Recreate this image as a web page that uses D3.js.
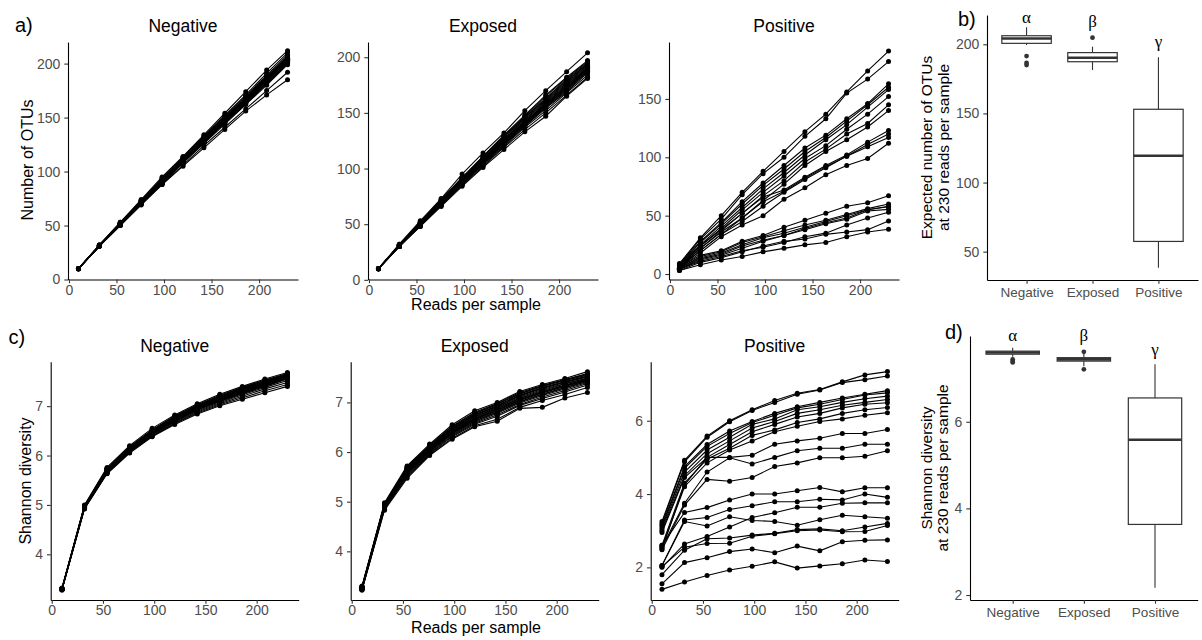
<!DOCTYPE html>
<html><head><meta charset="utf-8">
<script src="https://cdn.jsdelivr.net/npm/d3@7"></script>
<style>body{margin:0;background:#fff} svg{display:block}</style>
</head><body><svg id="chart" width="1202" height="640"></svg>
<script>
// ---------------- DATA ----------------
const reads = [10, 32, 54, 76, 98, 120, 142, 164, 186, 208, 230];
const groups = ["Negative", "Exposed", "Positive"];
const xTicks = [0, 50, 100, 150, 200];

const otuNegative = [
  [10, 32, 53, 74, 95, 114, 134, 154, 174, 194, 212],
  [10, 32, 53, 73, 94, 113, 133, 152, 171, 191, 210],
  [10, 31, 52, 73, 93, 113, 132, 151, 170, 189, 208],
  [10, 31, 52, 73, 93, 112, 131, 150, 169, 188, 207],
  [10, 31, 52, 72, 92, 112, 131, 150, 168, 187, 206],
  [10, 32, 52, 72, 92, 111, 130, 149, 168, 187, 206],
  [10, 31, 51, 72, 92, 111, 130, 149, 167, 186, 205],
  [10, 31, 52, 72, 91, 111, 130, 148, 167, 186, 205],
  [10, 31, 51, 72, 91, 110, 129, 148, 166, 185, 204],
  [10, 31, 52, 72, 91, 110, 129, 148, 166, 185, 204],
  [10, 31, 51, 71, 91, 110, 129, 147, 166, 185, 204],
  [10, 31, 51, 71, 90, 110, 128, 147, 165, 184, 203],
  [10, 31, 51, 71, 91, 109, 128, 147, 165, 184, 203],
  [10, 31, 51, 71, 90, 109, 128, 146, 164, 183, 202],
  [10, 31, 51, 71, 90, 109, 127, 146, 164, 182, 201],
  [10, 31, 51, 71, 90, 108, 127, 145, 163, 182, 201],
  [10, 31, 51, 70, 89, 108, 127, 145, 163, 181, 200],
  [10, 31, 51, 70, 89, 108, 126, 144, 162, 180, 199],
  [10, 31, 50, 70, 88, 106, 124, 141, 158, 175, 192],
  [10, 31, 50, 69, 88, 105, 122, 139, 156, 171, 185]
];
const otuExposed = [
  [10, 32, 53, 73, 95, 114, 132, 152, 170, 187, 204],
  [10, 32, 52, 72, 92, 111, 130, 148, 166, 182, 197],
  [10, 31, 52, 72, 91, 110, 129, 147, 165, 181, 196],
  [10, 31, 51, 71, 91, 109, 128, 146, 163, 180, 195],
  [10, 31, 51, 71, 90, 109, 127, 145, 162, 178, 194],
  [10, 31, 51, 70, 90, 108, 126, 144, 161, 177, 193],
  [10, 31, 51, 70, 89, 108, 126, 143, 160, 176, 192],
  [10, 31, 50, 70, 89, 107, 125, 142, 159, 175, 191],
  [10, 31, 50, 70, 89, 107, 125, 142, 158, 174, 190.5],
  [10, 31, 50, 69, 88, 106, 124, 141, 158, 174, 190],
  [10, 31, 50, 69, 88, 106, 124, 141, 157, 173, 189.5],
  [10, 31, 50, 69, 88, 106, 123, 140, 157, 172, 189],
  [10, 30, 50, 69, 87, 105, 123, 140, 156, 172, 188],
  [10, 30, 49, 68, 87, 105, 122, 139, 155, 171, 187.5],
  [10, 30, 49, 68, 87, 104, 122, 139, 155, 170, 187],
  [10, 30, 49, 68, 86, 104, 121, 138, 154, 169, 186],
  [10, 30, 49, 67, 86, 103, 120, 137, 152, 168, 184],
  [10, 30, 48, 67, 85, 102, 119, 135, 150, 166, 182],
  [10, 30, 48, 66, 84, 101, 117, 133, 147, 165, 181],
  [10, 31, 51, 71, 91, 111, 129, 146, 163, 179, 194]
];
const otuPositive = [
  [9, 31, 50, 70, 88, 105, 122, 137, 156, 174, 191],
  [8, 30, 47, 68, 86, 100, 118, 133, 155, 167, 182],
  [8, 28, 44, 62, 78, 93, 108, 119, 133, 146, 163],
  [7, 27, 43, 60, 76, 90, 105, 117, 131, 145, 160],
  [7, 25, 41, 57, 73, 87, 102, 115, 128, 143, 158],
  [7, 24, 39, 55, 70, 84, 99, 110, 124, 137, 152],
  [6, 22, 37, 52, 67, 80, 96, 107, 120, 129, 145],
  [6, 20, 34, 48, 63, 77, 93, 105, 115, 126, 140],
  [6, 24, 38, 52, 66, 72, 83, 93, 102, 113, 123],
  [6, 22, 36, 48, 62, 71, 82, 92, 101, 111, 120],
  [5, 20, 34, 45, 58, 70, 81, 91, 101, 109, 117],
  [5, 18, 32, 42, 50, 64, 74, 85, 93, 99, 112],
  [6, 16, 20, 28, 33, 40, 46, 52, 58, 61, 67],
  [5, 15, 19, 27, 32, 37, 42, 46, 51, 56, 60],
  [5, 14, 18, 25, 31, 35, 40, 45, 50, 55, 58],
  [4, 13, 17, 24, 29, 33, 39, 44, 48, 55, 57.7],
  [4, 12, 16, 22, 28, 33, 38, 43, 47, 54, 55.4],
  [4, 11, 15, 20, 23, 27, 32, 35, 42, 48, 53],
  [3, 10, 14, 19, 24, 28, 30, 34, 36, 38, 45.4],
  [3, 8, 12, 15, 19, 22, 25, 27, 32, 36, 38.3]
];

const shannonNegative = [
  [3.32, 5.00, 5.76, 6.20, 6.55, 6.82, 7.05, 7.24, 7.40, 7.55, 7.68],
  [3.31, 4.99, 5.74, 6.18, 6.52, 6.80, 7.03, 7.22, 7.38, 7.53, 7.66],
  [3.30, 4.98, 5.73, 6.16, 6.51, 6.78, 7.01, 7.20, 7.36, 7.51, 7.64],
  [3.30, 4.98, 5.72, 6.15, 6.50, 6.77, 7.00, 7.18, 7.35, 7.50, 7.63],
  [3.30, 4.97, 5.72, 6.14, 6.49, 6.76, 6.99, 7.17, 7.34, 7.49, 7.62],
  [3.29, 4.97, 5.71, 6.14, 6.48, 6.75, 6.98, 7.16, 7.33, 7.48, 7.62],
  [3.30, 4.96, 5.71, 6.13, 6.48, 6.75, 6.97, 7.16, 7.32, 7.47, 7.61],
  [3.29, 4.97, 5.70, 6.13, 6.47, 6.74, 6.97, 7.15, 7.31, 7.46, 7.60],
  [3.30, 4.96, 5.70, 6.12, 6.47, 6.74, 6.96, 7.15, 7.30, 7.45, 7.60],
  [3.30, 4.96, 5.69, 6.12, 6.46, 6.73, 6.96, 7.14, 7.30, 7.45, 7.59],
  [3.29, 4.96, 5.69, 6.11, 6.46, 6.73, 6.95, 7.13, 7.29, 7.44, 7.58],
  [3.30, 4.95, 5.68, 6.11, 6.45, 6.72, 6.94, 7.12, 7.28, 7.43, 7.58],
  [3.29, 4.95, 5.68, 6.10, 6.45, 6.71, 6.94, 7.11, 7.27, 7.42, 7.57],
  [3.30, 4.95, 5.67, 6.10, 6.44, 6.70, 6.93, 7.10, 7.26, 7.41, 7.56],
  [3.29, 4.94, 5.67, 6.09, 6.43, 6.69, 6.92, 7.09, 7.25, 7.40, 7.55],
  [3.30, 4.94, 5.66, 6.08, 6.42, 6.68, 6.90, 7.07, 7.23, 7.38, 7.52],
  [3.29, 4.93, 5.65, 6.07, 6.40, 6.66, 6.88, 7.05, 7.20, 7.35, 7.48],
  [3.28, 4.93, 5.64, 6.06, 6.39, 6.65, 6.86, 7.03, 7.17, 7.31, 7.44],
  [3.28, 4.92, 5.63, 6.05, 6.38, 6.63, 6.84, 7.01, 7.14, 7.27, 7.40],
  [3.31, 4.98, 5.73, 6.17, 6.52, 6.79, 7.02, 7.20, 7.37, 7.52, 7.65]
];
const shannonExposed = [
  [3.30, 4.98, 5.72, 6.16, 6.55, 6.83, 7.00, 7.22, 7.36, 7.48, 7.62],
  [3.29, 4.96, 5.70, 6.14, 6.52, 6.80, 6.98, 7.20, 7.34, 7.46, 7.58],
  [3.28, 4.95, 5.68, 6.12, 6.50, 6.77, 6.96, 7.17, 7.32, 7.44, 7.55],
  [3.28, 4.94, 5.67, 6.10, 6.48, 6.75, 6.94, 7.15, 7.30, 7.42, 7.53],
  [3.27, 4.94, 5.66, 6.09, 6.46, 6.73, 6.92, 7.13, 7.28, 7.40, 7.51],
  [3.27, 4.93, 5.65, 6.08, 6.45, 6.71, 6.90, 7.11, 7.26, 7.38, 7.49],
  [3.26, 4.93, 5.64, 6.07, 6.43, 6.70, 6.88, 7.09, 7.24, 7.37, 7.48],
  [3.26, 4.92, 5.63, 6.06, 6.42, 6.68, 6.87, 7.08, 7.22, 7.35, 7.47],
  [3.25, 4.92, 5.62, 6.05, 6.41, 6.67, 6.85, 7.06, 7.21, 7.34, 7.46],
  [3.25, 4.91, 5.61, 6.04, 6.40, 6.66, 6.84, 7.05, 7.20, 7.33, 7.45],
  [3.25, 4.91, 5.60, 6.03, 6.39, 6.65, 6.83, 7.04, 7.19, 7.32, 7.44],
  [3.24, 4.90, 5.59, 6.02, 6.38, 6.63, 6.81, 7.02, 7.17, 7.30, 7.43],
  [3.24, 4.90, 5.58, 6.01, 6.37, 6.62, 6.80, 7.01, 7.16, 7.29, 7.42],
  [3.24, 4.89, 5.57, 6.00, 6.35, 6.60, 6.78, 6.99, 7.14, 7.27, 7.40],
  [3.23, 4.88, 5.55, 5.98, 6.33, 6.58, 6.75, 6.96, 7.11, 7.24, 7.38],
  [3.23, 4.87, 5.53, 5.97, 6.31, 6.56, 6.72, 6.94, 7.08, 7.21, 7.35],
  [3.22, 4.85, 5.50, 5.95, 6.28, 6.53, 6.66, 6.90, 7.04, 7.16, 7.30],
  [3.22, 4.83, 5.47, 5.93, 6.26, 6.51, 6.62, 6.88, 6.90, 7.09, 7.20],
  [3.26, 4.94, 5.66, 6.10, 6.47, 6.74, 6.93, 7.14, 7.29, 7.41, 7.52],
  [3.27, 4.95, 5.69, 6.13, 6.51, 6.78, 6.97, 7.18, 7.33, 7.45, 7.57]
];
const shannonPositive = [
  [3.25, 4.92, 5.58, 6.00, 6.30, 6.55, 6.75, 6.85, 7.06, 7.25, 7.34],
  [3.20, 4.88, 5.55, 5.97, 6.28, 6.50, 6.72, 6.84, 7.04, 7.12, 7.22],
  [3.15, 4.75, 5.35, 5.72, 5.98, 6.20, 6.38, 6.50, 6.62, 6.72, 6.82],
  [3.10, 4.70, 5.30, 5.65, 5.95, 6.15, 6.35, 6.45, 6.58, 6.70, 6.76],
  [3.05, 4.60, 5.20, 5.55, 5.90, 6.05, 6.30, 6.38, 6.50, 6.60, 6.67],
  [3.00, 4.50, 5.10, 5.45, 5.80, 5.98, 6.20, 6.30, 6.42, 6.50, 6.58],
  [2.95, 4.45, 5.00, 5.35, 5.70, 5.90, 6.10, 6.20, 6.35, 6.45, 6.49],
  [2.60, 4.30, 4.95, 5.25, 5.60, 5.75, 5.95, 6.05, 6.20, 6.30, 6.36],
  [2.55, 4.20, 4.85, 5.20, 5.45, 5.70, 5.85, 5.98, 6.05, 6.15, 6.22],
  [2.50, 4.25, 5.00, 5.00, 5.06, 5.36, 5.45, 5.52, 5.65, 5.65, 5.76],
  [2.55, 3.75, 4.60, 4.99, 4.82, 5.00, 5.18, 5.25, 5.25, 5.36, 5.36],
  [2.48, 3.70, 4.40, 4.35, 4.45, 4.75, 4.85, 4.99, 4.99, 5.03, 5.18],
  [2.60, 3.50, 3.63, 3.84, 4.00, 4.00, 4.09, 4.18, 4.06, 4.17, 4.17],
  [2.05, 3.29, 3.36, 3.58, 3.68, 3.79, 3.79, 3.86, 3.84, 4.00, 3.91],
  [2.00, 2.64, 2.84, 3.10, 3.36, 3.49, 3.64, 3.64, 3.75, 3.76, 3.76],
  [2.05, 3.25, 3.13, 3.38, 3.28, 3.25, 3.15, 3.30, 3.42, 3.38, 3.34],
  [1.80, 2.47, 2.78, 2.80, 2.88, 2.93, 3.03, 3.05, 3.00, 3.10, 3.20],
  [2.02, 2.55, 2.65, 2.66, 2.85, 2.92, 3.00, 3.02, 2.97, 2.98, 3.14],
  [1.55, 2.13, 2.26, 2.43, 2.50, 2.40, 2.58, 2.45, 2.70, 2.74, 2.75],
  [1.40, 1.60, 1.78, 1.93, 2.03, 2.15, 1.98, 2.04, 2.10, 2.20, 2.16]
];

// box-plot summaries at 230 reads per sample
const otuBoxLow    = [199.5, 181.4, 38.4];
const otuBoxQ1     = [200.7, 187.4, 57.4];
const otuBoxMedian = [204.2, 190.3, 119.4];
const otuBoxQ3     = [206.2, 194.0, 153.0];
const otuBoxHigh   = [212.3, 198.3, 190.6];
const otuOutliers  = [[191.5, 186.5, 185.0], [204.8], []];
const otuLetters   = ["α", "β", "γ"];
const otuLetterY   = [215.6, 212.2, 198.0];

const shanBoxLow    = [7.50, 7.28, 2.17];
const shanBoxQ1     = [7.56, 7.40, 3.63];
const shanBoxMedian = [7.60, 7.44, 5.585];
const shanBoxQ3     = [7.63, 7.48, 6.55];
const shanBoxHigh   = [7.71, 7.58, 7.33];
const shanOutliers  = [[7.44, 7.40, 7.37], [7.615, 7.21], []];
const shanLetters   = ["α", "β", "γ"];
const shanLetterY   = [7.87, 7.87, 7.53];

// ---------------- DRAWING ----------------
const svg = d3.select("#chart");
const FONT = "'Liberation Sans', Arial, Helvetica, sans-serif";
const fmt = d3.format("d");

function styleAxis(g) {
  g.select(".domain").attr("stroke", "#000").attr("stroke-width", 1.1);
  g.selectAll(".tick line").attr("stroke", "#333").attr("stroke-width", 1.1);
  g.selectAll(".tick text").attr("fill", "#4d4d4d").style("font-size", "14px").style("font-family", FONT);
}

function linePanel(cfg) {
  const x = d3.scaleLinear().domain([-1, 241]).range([cfg.left, cfg.right]);
  const y = d3.scaleLinear().domain(cfg.yd).range([cfg.bottom, cfg.top]);
  const g = svg.append("g");
  const line = d3.line().x((d, i) => x(reads[i])).y(d => y(d));
  g.selectAll("path.series").data(cfg.data).join("path")
    .attr("class", "series").attr("d", line)
    .attr("fill", "none").attr("stroke", "#000").attr("stroke-width", 1.1);
  const pts = cfg.data.flatMap(s => s.map((v, i) => ({x: reads[i], y: v})));
  g.selectAll("circle").data(pts).join("circle")
    .attr("cx", d => x(d.x)).attr("cy", d => y(d.y)).attr("r", 2.5).attr("fill", "#000");
  const xa = g.append("g").attr("transform", `translate(0,${cfg.bottom})`)
    .call(d3.axisBottom(x).tickValues(xTicks).tickFormat(fmt).tickSize(3.7).tickSizeOuter(0).tickPadding(1.5));
  styleAxis(xa);
  const ya = g.append("g").attr("transform", `translate(${cfg.left},0)`)
    .call(d3.axisLeft(y).tickValues(cfg.yticks).tickFormat(fmt).tickSize(3.7).tickSizeOuter(0).tickPadding(4));
  styleAxis(ya);
  g.append("text").attr("x", (cfg.left + cfg.right) / 2).attr("y", cfg.titleY)
    .attr("text-anchor", "middle").style("font-family", FONT).style("font-size", "17.5px")
    .attr("fill", "#000").text(cfg.title);
}

function boxPanel(cfg) {
  const x = d3.scalePoint().domain(groups).range([cfg.left, cfg.right]).padding(0.6);
  const y = d3.scaleLinear().domain(cfg.yd).range([cfg.bottom, cfg.top]);
  const g = svg.append("g");
  const bw = x.step() * 0.75;
  const col = "#333";
  g.selectAll("line.whi").data(groups).join("line").attr("class", "whi")
    .attr("x1", d => x(d)).attr("x2", d => x(d))
    .attr("y1", (d, i) => y(cfg.q3[i])).attr("y2", (d, i) => y(cfg.high[i]))
    .attr("stroke", col).attr("stroke-width", 1.1);
  g.selectAll("line.wlo").data(groups).join("line").attr("class", "wlo")
    .attr("x1", d => x(d)).attr("x2", d => x(d))
    .attr("y1", (d, i) => y(cfg.q1[i])).attr("y2", (d, i) => y(cfg.low[i]))
    .attr("stroke", col).attr("stroke-width", 1.1);
  g.selectAll("rect.box").data(groups).join("rect").attr("class", "box")
    .attr("x", d => x(d) - bw / 2).attr("width", bw)
    .attr("y", (d, i) => y(cfg.q3[i])).attr("height", (d, i) => y(cfg.q1[i]) - y(cfg.q3[i]))
    .attr("fill", "#fff").attr("stroke", col).attr("stroke-width", 1.2);
  g.selectAll("line.med").data(groups).join("line").attr("class", "med")
    .attr("x1", d => x(d) - bw / 2).attr("x2", d => x(d) + bw / 2)
    .attr("y1", (d, i) => y(cfg.median[i])).attr("y2", (d, i) => y(cfg.median[i]))
    .attr("stroke", col).attr("stroke-width", 2.6);
  const outs = cfg.outliers.flatMap((arr, i) => arr.map(v => ({g: groups[i], v})));
  g.selectAll("circle.out").data(outs).join("circle").attr("class", "out")
    .attr("cx", d => x(d.g)).attr("cy", d => y(d.v)).attr("r", 2.4).attr("fill", col);
  g.selectAll("text.letter").data(groups).join("text").attr("class", "letter")
    .attr("x", d => x(d)).attr("y", (d, i) => y(cfg.letterY[i]))
    .attr("text-anchor", "middle").style("font-family", "'Liberation Serif', 'DejaVu Serif', serif")
    .style("font-size", "17px").attr("fill", "#000").text((d, i) => cfg.letters[i]);
  const xa = g.append("g").attr("transform", `translate(0,${cfg.bottom})`)
    .call(d3.axisBottom(x).tickSize(3.7).tickSizeOuter(0).tickPadding(4));
  styleAxis(xa);
  xa.selectAll(".tick text").style("font-size", "13.5px");
  const ya = g.append("g").attr("transform", `translate(${cfg.left},0)`)
    .call(d3.axisLeft(y).tickValues(cfg.yticks).tickFormat(fmt).tickSize(3.7).tickSizeOuter(0).tickPadding(4));
  styleAxis(ya);
  const t = g.append("text").attr("transform", `translate(${cfg.titleX},${(cfg.top + cfg.bottom) / 2}) rotate(-90)`)
    .attr("text-anchor", "middle").style("font-family", FONT).style("font-size", "15.5px").attr("fill", "#000");
  t.append("tspan").attr("x", 0).attr("y", 0).text(cfg.ytitle[0]);
  t.append("tspan").attr("x", 0).attr("y", 16.5).text(cfg.ytitle[1]);
}

// top row
linePanel({data: otuNegative, left: 68, right: 298, top: 42, bottom: 279.5, yd: [0, 220], yticks: [0, 50, 100, 150, 200], title: "Negative", titleY: 31.7});
linePanel({data: otuExposed, left: 368, right: 598, top: 42, bottom: 279.5, yd: [0.3, 213.7], yticks: [0, 50, 100, 150, 200], title: "Exposed", titleY: 31.7});
linePanel({data: otuPositive, left: 669, right: 899, top: 42, bottom: 279.5, yd: [-4.7, 198.8], yticks: [0, 50, 100, 150], title: "Positive", titleY: 31.7});
boxPanel({left: 987, right: 1198, top: 15, bottom: 280, yd: [29.5, 221.2], yticks: [50, 100, 150, 200],
  low: otuBoxLow, q1: otuBoxQ1, median: otuBoxMedian, q3: otuBoxQ3, high: otuBoxHigh, outliers: otuOutliers,
  letters: otuLetters, letterY: otuLetterY, titleX: 932, ytitle: ["Expected number of OTUs", "at 230 reads per sample"]});

// bottom row
linePanel({data: shannonNegative, left: 50.7, right: 298.7, top: 361.7, bottom: 600, yd: [3.075, 7.9], yticks: [4, 5, 6, 7], title: "Negative", titleY: 351.7});
linePanel({data: shannonExposed, left: 350.7, right: 598.7, top: 361.7, bottom: 600, yd: [3.02, 7.82], yticks: [4, 5, 6, 7], title: "Exposed", titleY: 351.7});
linePanel({data: shannonPositive, left: 650.7, right: 898.7, top: 361.7, bottom: 600, yd: [1.11, 7.61], yticks: [2, 4, 6], title: "Positive", titleY: 351.7});
boxPanel({left: 970, right: 1197.7, top: 336, bottom: 600, yd: [1.885, 7.98], yticks: [2, 4, 6],
  low: shanBoxLow, q1: shanBoxQ1, median: shanBoxMedian, q3: shanBoxQ3, high: shanBoxHigh, outliers: shanOutliers,
  letters: shanLetters, letterY: shanLetterY, titleX: 931.5, ytitle: ["Shannon diversity", "at 230 reads per sample"]});

// axis titles and panel letters
function txt(x, y, s, size, rot) {
  const t = svg.append("text").style("font-family", FONT).style("font-size", size + "px").attr("fill", "#000").text(s);
  if (rot) t.attr("transform", `translate(${x},${y}) rotate(-90)`).attr("text-anchor", "middle");
  else t.attr("x", x).attr("y", y);
  return t;
}
txt(33, 160, "Number of OTUs", 16, true);
txt(31, 481, "Shannon diversity", 16, true);
txt(476, 309.5, "Reads per sample", 16).attr("text-anchor", "middle");
txt(476, 633, "Reads per sample", 16).attr("text-anchor", "middle");
txt(15, 31.7, "a)", 20);
txt(958, 26, "b)", 20);
txt(8.5, 344, "c)", 20);
txt(945, 339, "d)", 20);
</script>
</body></html>
